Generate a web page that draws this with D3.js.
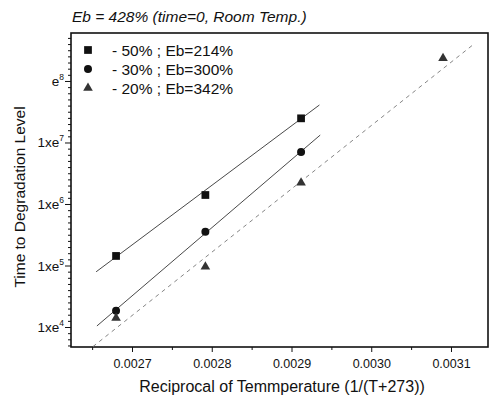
<!DOCTYPE html>
<html>
<head>
<meta charset="utf-8">
<script src="https://cdn.jsdelivr.net/npm/d3@7"></script>
<style>
  html, body { margin: 0; padding: 0; background: #fff; }
  svg { display: block; font-family: "Liberation Sans", Arial, sans-serif; }
</style>
</head>
<body>
<svg id="chart" width="491" height="396"></svg>
<script>
// ---- data ----
const seriesNames = ["- 50% ; Eb=214%", "- 30% ; Eb=300%", "- 20% ; Eb=342%"];
const squareX = [0.00268, 0.002792, 0.002912];
const squareY = [1.43e5, 1.4e6, 2.47e7];
const circleX = [0.00268, 0.002792, 0.002912];
const circleY = [1.84e4, 3.55e5, 7.0e6];
const triangleX = [0.00268, 0.002792, 0.002912, 0.00309];
const triangleY = [1.4e4, 9.55e4, 2.22e6, 2.34e8];
// fitted lines (end points)
const squareFitX = [0.002655, 0.002935];
const squareFitY = [7.9e4, 4.07e7];
const circleFitX = [0.002656, 0.002936];
const circleFitY = [1.04e4, 1.32e7];
const triangleFitX = [0.002651, 0.00313];
const triangleFitY = [4.8e3, 4.1e8];
// ticks
const xTickValues = [0.0027, 0.0028, 0.0029, 0.0030, 0.0031];
const xTickLabels = ["0.0027", "0.0028", "0.0029", "0.0030", "0.0031"];
const yTickValues = [1e4, 1e5, 1e6, 1e7, 1e8];
const yTickBase = ["1xe", "1xe", "1xe", "1xe", "e"];
const yTickExp = ["4", "5", "6", "7", "8"];
const titleText = "Eb = 428% (time=0, Room Temp.)";
const xTitle = "Reciprocal of Temmperature (1/(T+273))";
const yTitle = "Time to Degradation Level";

// ---- layout ----
const L = 71, R = 488, T = 33, B = 347;
const svg = d3.select("#chart");

const x = d3.scaleLinear().domain([0.0026235, 0.0031464]).range([L, R]);
const y = d3.scaleLog().domain([Math.pow(10, 3.675), Math.pow(10, 8.78)]).range([B, T]);

// ---- axes ----
const xMinor = d3.range(0, 6).map(i => 0.00265 + i * 0.0001).filter(v => v <= x.domain()[1]);
const xAxis = d3.axisBottom(x).tickValues(xTickValues).tickFormat((d, i) => xTickLabels[i]).tickSize(5).tickPadding(7);
const xMinorAxis = d3.axisBottom(x).tickValues(xMinor).tickFormat("").tickSize(3);

const gx = svg.append("g").attr("transform", `translate(0,${B})`).call(xAxis);
svg.append("g").attr("transform", `translate(0,${B})`).call(xMinorAxis);
svg.selectAll(".domain").remove();
gx.selectAll("text").attr("font-size", 12.5).attr("fill", "#111")
  .attr("font-family", "'Liberation Sans', Arial, sans-serif");

// y minor ticks (evenly spaced within each decade, as in the reference)
const yMinor = [];
for (let d = 3; d <= 8; d++) for (let i = 1; i <= 9; i++) {
  const v = Math.pow(10, d + i / 10);
  if (v >= y.domain()[0] && v <= y.domain()[1]) yMinor.push(v);
}
const yMinorAxis = d3.axisLeft(y).tickValues(yMinor).tickFormat("").tickSize(3);
const yAxis = d3.axisLeft(y).tickValues(yTickValues).tickFormat("").tickSize(6);
svg.append("g").attr("transform", `translate(${L},0)`).call(yMinorAxis).select(".domain").remove();
svg.append("g").attr("transform", `translate(${L},0)`).call(yAxis).select(".domain").remove();
svg.selectAll(".tick line").attr("stroke", "#111").attr("stroke-width", 1);

const yLab = svg.append("g").selectAll("text").data(yTickValues).join("text")
  .attr("x", L - 7)
  .attr("y", d => y(d) + 5)
  .attr("text-anchor", "end")
  .attr("font-size", 13.5)
  .attr("fill", "#111");
yLab.append("tspan").text((d, i) => yTickBase[i]);
yLab.append("tspan").attr("dy", -6).attr("font-size", 8.5).text((d, i) => yTickExp[i]);

// frame
svg.append("rect").attr("x", L).attr("y", T).attr("width", R - L).attr("height", B - T)
  .attr("fill", "none").attr("stroke", "#111").attr("stroke-width", 1.6);

// ---- fit lines ----
const line = d3.line().x(d => x(d[0])).y(d => y(d[1]));
svg.append("path").datum(d3.zip(squareFitX, squareFitY)).attr("d", line)
  .attr("fill", "none").attr("stroke", "#333").attr("stroke-width", 0.9);
svg.append("path").datum(d3.zip(circleFitX, circleFitY)).attr("d", line)
  .attr("fill", "none").attr("stroke", "#333").attr("stroke-width", 0.9);
svg.append("path").datum(d3.zip(triangleFitX, triangleFitY)).attr("d", line)
  .attr("fill", "none").attr("stroke", "#777").attr("stroke-width", 0.9)
  .attr("stroke-dasharray", "4,4");

// ---- markers ----
const sq = d3.symbol().type(d3.symbolSquare).size(60);
const ci = d3.symbol().type(d3.symbolCircle).size(50);
const tr = d3.symbol().type(d3.symbolTriangle).size(40);
svg.append("g").selectAll("path").data(d3.zip(squareX, squareY)).join("path")
  .attr("d", sq).attr("transform", d => `translate(${x(d[0])},${y(d[1])})`).attr("fill", "#111");
svg.append("g").selectAll("path").data(d3.zip(circleX, circleY)).join("path")
  .attr("d", ci).attr("transform", d => `translate(${x(d[0])},${y(d[1])})`).attr("fill", "#111");
svg.append("g").selectAll("path").data(d3.zip(triangleX, triangleY)).join("path")
  .attr("d", tr).attr("transform", d => `translate(${x(d[0])},${y(d[1])})`).attr("fill", "#333");

// ---- legend ----
const legSyms = [sq, ci, tr];
const legFill = ["#111", "#111", "#333"];
const leg = svg.append("g").selectAll("g").data(seriesNames).join("g")
  .attr("transform", (d, i) => `translate(88,${50 + i * 19})`);
leg.append("path").attr("d", (d, i) => legSyms[i]()).attr("fill", (d, i) => legFill[i]);
leg.append("text").attr("x", 24).attr("y", 5.5).attr("font-size", 15.5).attr("fill", "#111").text(d => d);

// ---- titles ----
svg.append("text").attr("x", L + 1).attr("y", 22).attr("font-size", 15.5)
  .attr("font-style", "italic").attr("fill", "#111").text(titleText);
svg.append("text").attr("x", 282).attr("y", 392).attr("text-anchor", "middle")
  .attr("font-size", 16).attr("fill", "#111").text(xTitle);
svg.append("text").attr("transform", "translate(25,197) rotate(-90)").attr("text-anchor", "middle")
  .attr("font-size", 15.5).attr("fill", "#111").text(yTitle);
</script>
</body>
</html>
